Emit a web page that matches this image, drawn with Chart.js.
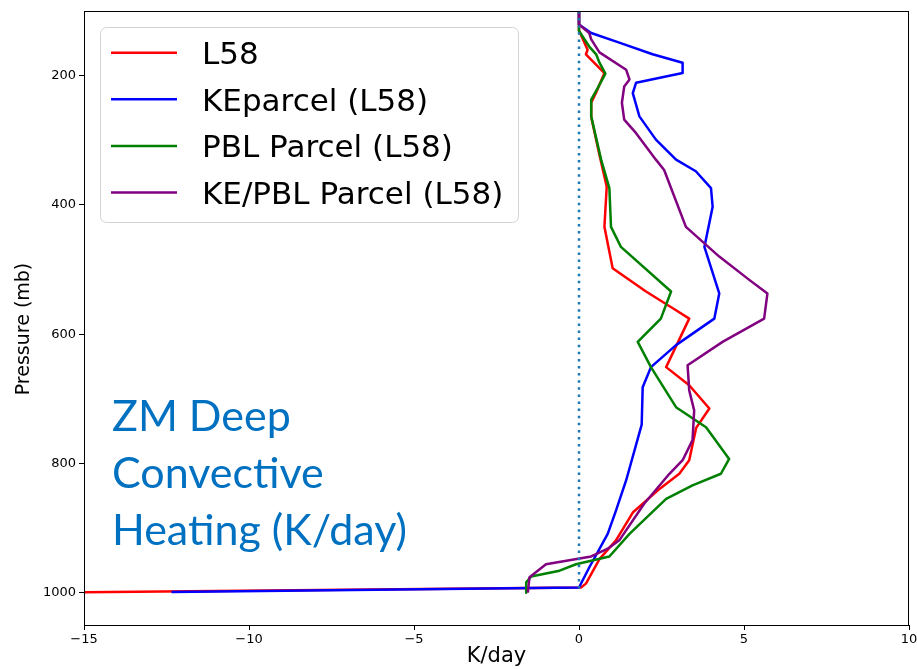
<!DOCTYPE html>
<html>
<head>
<meta charset="utf-8">
<script src="https://cdn.jsdelivr.net/npm/chart.js@4"></script>
<style>
  html, body { margin: 0; padding: 0; background: #fff; }
  #wrap { width: 917px; height: 669px; }
</style>
</head>
<body>
<div id="wrap"><canvas id="chart" width="917" height="669"></canvas></div>
<script>
// ── Data ──────────────────────────────────────────────────────────────
const seriesNames  = ['L58', 'KEparcel (L58)', 'PBL Parcel (L58)', 'KE/PBL Parcel (L58)'];
const seriesColors = ['#ff0000', '#0000ff', '#008000', '#800080'];

const xTicks = [-15, -10, -5, 0, 5, 10];
const yTicks = [200, 400, 600, 800, 1000];

// L58
const l58P = [100, 130, 160, 167, 196, 226, 242, 264, 318, 372, 434, 498, 534, 563, 576, 651, 679, 715, 745, 795, 816, 842, 876, 919, 948, 986, 992, 1000];
const l58K = [0, 0, 0.26, 0.21, 0.77, 0.52, 0.37, 0.37, 0.6, 0.84, 0.77, 1.02, 2.03, 2.94, 3.34, 2.64, 3.34, 3.95, 3.55, 3.34, 3.04, 2.38, 1.63, 1.12, 0.62, 0.21, 0.06, -16];

// KEparcel (L58)
const keP = [100, 121, 134, 149, 167, 180, 196, 211, 227, 263, 299, 330, 348, 374, 403, 465, 537, 576, 617, 651, 682, 740, 826, 873, 909, 961, 992, 999];
const keK = [0, 0, 0.37, 1.22, 2.23, 3.14, 3.14, 1.73, 1.63, 1.83, 2.33, 2.94, 3.54, 4.0, 4.05, 3.8, 4.25, 4.1, 2.94, 2.18, 1.93, 1.9, 1.43, 1.12, 0.87, 0.31, 0.0, -12.35];

// PBL Parcel (L58)
const pblP = [100, 131, 155, 167, 180, 197, 219, 237, 263, 330, 374, 434, 465, 534, 576, 612, 651, 713, 744, 793, 816, 834, 855, 909, 944, 956, 966, 975, 984, 1000];
const pblK = [0, 0, 0.31, 0.52, 0.62, 0.80, 0.57, 0.37, 0.37, 0.67, 0.92, 0.97, 1.27, 2.79, 2.48, 1.78, 2.18, 2.94, 3.85, 4.55, 4.3, 3.44, 2.64, 1.53, 0.92, -0.09, -0.59, -1.45, -1.6, -1.6];

// KE/PBL Parcel (L58)
const kepblP = [100, 121, 134, 144, 164, 191, 206, 217, 242, 268, 289, 330, 346, 434, 480, 516, 537, 576, 612, 648, 687, 718, 764, 795, 816, 862, 919, 932, 944, 956, 976, 1000];
const kepblK = [0, 0, 0.31, 0.37, 0.62, 1.43, 1.53, 1.37, 1.30, 1.37, 1.73, 2.33, 2.58, 3.24, 4.25, 5.16, 5.71, 5.61, 4.35, 3.29, 3.34, 3.49, 3.44, 3.14, 2.74, 1.98, 1.22, 0.87, 0.37, -1.0, -1.5, -1.55];

// zero reference line
const zeroP = [100, 1000];
const zeroK = [0, 0];

const noteLines = ['ZM Deep', 'Convective', 'Heating (K/day)'];

// ── Helpers ───────────────────────────────────────────────────────────
const pts = (ks, ps) => ks.map((k, i) => ({ x: k, y: ps[i] }));
const fmtMinus = v => String(v).replace('-', '\u2212');

function lineSet(label, color, ks, ps, order) {
    return {
        label, data: pts(ks, ps), borderColor: color, backgroundColor: color,
        borderWidth: 2.5, pointRadius: 0, tension: 0, fill: false, order,
        borderJoinStyle: 'round', borderCapStyle: 'butt'
    };
}

// ── Overlay: frame, legend, axis titles, note ─────────────────────────
const overlay = {
    id: 'overlay',
    afterDraw(chart) {
        const { ctx, chartArea: a } = chart;
        ctx.save();

        // frame
        ctx.strokeStyle = '#000';
        ctx.lineWidth = 1;
        ctx.strokeRect(a.left + 0.5, a.top + 0.5, a.right - a.left - 1, a.bottom - a.top);

        // legend
        const lx = 100.5, ly = 27.5, lw = 418, lh = 195, r = 6;
        ctx.beginPath();
        ctx.roundRect(lx, ly, lw, lh, r);
        ctx.fillStyle = 'rgba(255,255,255,0.85)';
        ctx.fill();
        ctx.strokeStyle = '#d3d3d3';
        ctx.lineWidth = 1;
        ctx.stroke();

        ctx.font = '31px "DejaVu Sans"';
        ctx.textBaseline = 'alphabetic';
        ctx.textAlign = 'left';
        seriesNames.forEach((name, i) => {
            const y = 52.7 + i * 46.6;
            ctx.strokeStyle = seriesColors[i];
            ctx.lineWidth = 2.5;
            ctx.beginPath();
            ctx.moveTo(111, y);
            ctx.lineTo(177, y);
            ctx.stroke();
            ctx.fillStyle = '#000';
            ctx.fillText(name, 202, y + 11.4);
        });

        // axis titles
        ctx.fillStyle = '#000';
        ctx.textAlign = 'center';
        ctx.textBaseline = 'middle';
        ctx.font = '21px "DejaVu Sans"';
        ctx.fillText('K/day', (a.left + a.right) / 2, 657);
        ctx.font = '19px "DejaVu Sans"';
        ctx.save();
        ctx.translate(24, 329);
        ctx.rotate(-Math.PI / 2);
        ctx.fillText('Pressure (mb)', 0, 0);
        ctx.restore();

        // note
        ctx.fillStyle = '#0070c0';
        ctx.font = '43px Lato';
        ctx.textAlign = 'left';
        ctx.textBaseline = 'alphabetic';
        noteLines.forEach((t, i) => ctx.fillText(t, 112, 431 + i * 57));

        ctx.restore();
    }
};

// ── Chart ─────────────────────────────────────────────────────────────
const tickFont = { family: '"DejaVu Sans"', size: 13 };
const axisGrid = { display: true, drawOnChartArea: false, drawTicks: true, tickLength: 5, tickColor: '#000', tickWidth: 1 };

new Chart(document.getElementById('chart'), {
    type: 'line',
    data: {
        datasets: [
            lineSet(seriesNames[0], seriesColors[0], l58K, l58P, 4),
            lineSet(seriesNames[1], seriesColors[1], keK, keP, 3),
            lineSet(seriesNames[2], seriesColors[2], pblK, pblP, 2),
            lineSet(seriesNames[3], seriesColors[3], kepblK, kepblP, 1),
            {
                label: 'zero', data: pts(zeroK, zeroP), borderColor: '#1f77b4',
                borderWidth: 2.5, borderDash: [2.5, 4.6], pointRadius: 0, order: 0
            }
        ]
    },
    options: {
        responsive: false,
        animation: false,
        layout: { padding: { top: 11, right: 8, left: 0, bottom: 0 } },
        plugins: { legend: { display: false }, tooltip: { enabled: false } },
        scales: {
            x: {
                type: 'linear', min: -15, max: 10,
                afterBuildTicks: s => { s.ticks = xTicks.map(v => ({ value: v })); },
                afterFit: s => { s.height = 44; s.paddingLeft = 0; s.paddingRight = 0; },
                ticks: { font: tickFont, color: '#000', padding: 2, maxRotation: 0, callback: v => fmtMinus(v) },
                grid: axisGrid,
                border: { display: true, color: '#000', width: 1 }
            },
            y: {
                type: 'linear', min: 100, max: 1050, reverse: true,
                afterBuildTicks: s => { s.ticks = yTicks.map(v => ({ value: v })); },
                afterFit: s => { s.width = 84; s.paddingTop = 0; s.paddingBottom = 0; },
                ticks: { font: tickFont, color: '#000', padding: 3, callback: v => String(v) },
                grid: axisGrid,
                border: { display: true, color: '#000', width: 1 }
            }
        }
    },
    plugins: [overlay]
});
</script>
</body>
</html>
